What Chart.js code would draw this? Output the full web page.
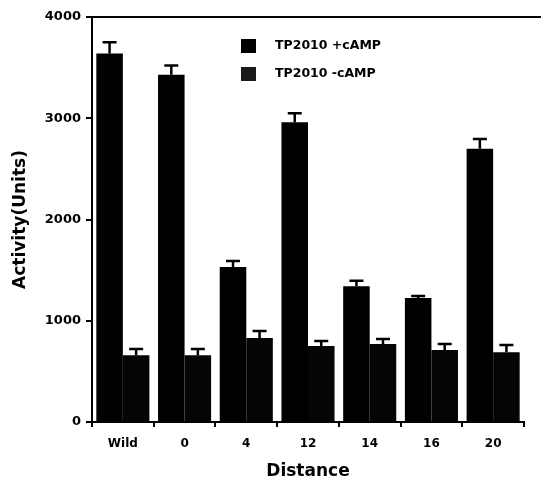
<!DOCTYPE html>
<html lang="en">
<head>
    <meta charset="UTF-8">
    <title>Activity vs Distance</title>
    <script src="https://cdn.jsdelivr.net/npm/chart.js@4.4.0/dist/chart.umd.min.js"></script>
    <style>
        body { margin: 0; background: #fff; }
    </style>
</head>
<body>
    <canvas id="chart" width="541" height="482"></canvas>
    <script>
// values
const distances = ['Wild', '0', '4', '12', '14', '16', '20'];
const plusCamp = [3640, 3430, 1530, 2960, 1340, 1225, 2700];
const plusCampErr = [110, 90, 60, 90, 55, 20, 95];
const minusCamp = [660, 660, 830, 750, 770, 710, 690];
const minusCampErr = [60, 60, 70, 50, 50, 60, 70];
const yTicks = [0, 1000, 2000, 3000, 4000];

const font = 'DejaVu Sans';

// upper error bars only, like the original
const errorBars = {
    id: 'errorBars',
    afterDatasetsDraw(chart) {
        const ctx = chart.ctx;
        const y = chart.scales.y;
        ctx.save();
        ctx.strokeStyle = '#000';
        ctx.lineWidth = 2.5;
        chart.data.datasets.forEach((ds, i) => {
            const meta = chart.getDatasetMeta(i);
            meta.data.forEach((bar, j) => {
                const top = y.getPixelForValue(ds.data[j] + ds.err[j]);
                ctx.beginPath();
                ctx.moveTo(bar.x, bar.y);
                ctx.lineTo(bar.x, top);
                ctx.moveTo(bar.x - 7, top);
                ctx.lineTo(bar.x + 7, top);
                ctx.stroke();
            });
        });
        ctx.restore();
    }
};

// top frame line and the legend box inside the plot
const frame = {
    id: 'frame',
    afterDraw(chart) {
        const ctx = chart.ctx;
        const a = chart.chartArea;
        ctx.save();
        ctx.strokeStyle = '#000';
        ctx.lineWidth = 2;
        ctx.beginPath();
        ctx.moveTo(a.left, a.top);
        ctx.lineTo(chart.width, a.top);
        ctx.stroke();

        ctx.font = 'bold 12.5px ' + font;
        ctx.textBaseline = 'middle';
        chart.data.datasets.forEach((ds, i) => {
            const yy = 46 + i * 28;
            ctx.fillStyle = i === 0 ? '#000' : '#1a1a1a';
            ctx.fillRect(241, yy - 7, 15, 14);
            ctx.fillStyle = '#000';
            ctx.fillText(ds.label, 275, yy);
        });
        ctx.restore();
    }
};

const ctx = document.getElementById('chart').getContext('2d');
new Chart(ctx, {
    type: 'bar',
    data: {
        labels: distances,
        datasets: [
            { label: 'TP2010 +cAMP', data: plusCamp, err: plusCampErr, backgroundColor: '#000' },
            { label: 'TP2010 -cAMP', data: minusCamp, err: minusCampErr, backgroundColor: '#050505' }
        ]
    },
    options: {
        responsive: false,
        animation: false,
        layout: { padding: { top: 17, right: 17, left: 0, bottom: 0 } },
        datasets: { bar: { categoryPercentage: 0.86, barPercentage: 1.0 } },
        plugins: { legend: { display: false }, tooltip: { enabled: false } },
        scales: {
            x: {
                afterFit: s => { s.height = 60; },
                grid: { drawOnChartArea: false, color: '#000', tickLength: 5, lineWidth: 2 },
                border: { color: '#000', width: 2 },
                ticks: { color: '#000', padding: 10, font: { family: font, size: 12, weight: 'bold' } },
                title: { display: true, text: 'Distance', color: '#000', padding: { top: 0, bottom: 0 },
                         font: { family: font, size: 17, weight: 'bold' } }
            },
            y: {
                min: 0,
                max: 4000,
                afterFit: s => { s.width = 92; },
                afterBuildTicks: s => { s.ticks = yTicks.map(v => ({ value: v })); },
                grid: { drawOnChartArea: false, color: '#000', tickLength: 6, lineWidth: 2 },
                border: { color: '#000', width: 2 },
                ticks: { color: '#000', padding: 5, callback: v => String(v),
                         font: { family: font, size: 13, weight: 'bold' } },
                title: { display: true, text: 'Activity(Units)', color: '#000', padding: { top: 10, bottom: 0 },
                         font: { family: font, size: 17, weight: 'bold' } }
            }
        }
    },
    plugins: [errorBars, frame]
});
    </script>
</body>
</html>
